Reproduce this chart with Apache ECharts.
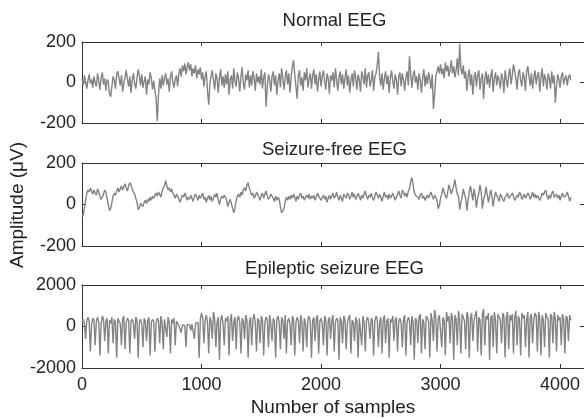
<!DOCTYPE html>
<html><head><meta charset="utf-8">
<script src="https://cdn.jsdelivr.net/npm/echarts@6/dist/echarts.min.js"></script>
<style>html,body{margin:0;padding:0;background:#fff}#c{width:584px;height:418px}</style>
</head><body><div id="c"></div>
<script>
const STEP = 10;

const normalEEG = [
20,-15,35,5,-30,10,40,-5,15,-25,
30,0,-20,45,10,-35,25,50,-10,20,
-40,15,5,-55,-70,-20,30,10,-30,40,
55,20,-15,35,-45,0,25,60,15,-20,
30,-50,10,45,-5,-30,20,65,35,-15,
40,-25,5,30,-60,15,-10,50,20,-35,
10,-40,-80,-190,-60,20,-30,35,-15,25,
45,-10,20,-45,30,55,0,-25,15,35,
-20,40,70,30,85,55,95,40,75,100,
60,90,30,70,45,85,20,65,40,75,
15,50,-20,30,55,-40,-110,-10,35,60,
10,-35,45,20,-50,25,65,-15,30,-25,
40,-10,55,-60,15,35,-30,70,5,-20,
50,20,-45,30,75,-5,-35,40,10,60,
-25,35,-15,55,20,-40,45,0,30,-10,
65,-30,25,50,-120,-20,40,15,-45,30,
55,-15,35,-60,10,45,-25,70,20,-35,
30,60,-10,45,-50,25,80,110,40,-20,
-80,35,60,-15,25,-40,50,10,70,-25,
20,45,-30,35,65,-10,40,-45,15,55,
-20,30,60,5,-35,45,20,-55,35,10,
50,-25,70,15,-40,25,55,-10,40,-30,
20,65,-15,35,-50,10,45,-20,60,25,
-35,40,15,-45,55,30,-10,70,-25,35,
50,-20,10,60,-40,25,45,85,150,30,
-15,45,-35,20,55,-10,35,-50,25,60,
5,-30,40,15,-60,30,50,-20,45,10,
-40,25,55,-15,130,40,-25,35,60,0,
30,-35,45,10,-50,25,65,-20,35,-10,
50,15,-30,40,-130,-60,30,55,80,45,
90,40,70,20,100,55,85,30,65,110,
45,80,25,60,120,35,190,70,40,85,
20,55,-40,30,65,-15,40,-60,25,50,
-20,35,60,-35,20,45,-80,15,55,-10,
40,-25,30,65,-45,20,50,-15,35,10,
-30,45,20,-50,60,15,-25,40,70,-10,
35,90,55,20,-35,45,65,10,-20,50,
25,-40,55,80,30,-15,45,-30,20,60,
-10,35,50,-45,25,70,-20,40,15,-35,
45,20,-30,55,-5,35,-100,-20,40,15,
-25,30,50,-10,20,35,-15,25,40,10
];

const seizureFreeEEG = [
-60,-50,-20,20,55,70,60,80,65,50,
70,55,45,75,60,40,25,35,50,70,
60,30,0,-30,-20,10,40,55,45,65,
80,60,75,90,70,85,100,80,65,90,
105,95,75,60,50,30,10,-25,-15,5,
0,-10,10,20,5,25,15,35,20,40,
30,45,55,40,60,50,35,65,80,90,
115,90,70,80,60,75,55,45,30,50,
40,25,10,30,45,35,55,40,20,35,
25,45,30,15,40,50,35,20,45,30,
40,55,25,35,10,30,45,20,40,15,
30,50,35,55,20,0,25,40,30,45,
35,20,-10,10,25,5,-20,-40,-15,20,
40,50,35,60,45,70,80,65,95,105,
80,60,45,55,30,40,60,50,35,20,
45,55,30,50,65,40,25,35,50,45,
30,15,40,20,35,25,-10,-40,-30,-20,
15,35,20,40,25,45,30,50,35,15,
40,25,45,55,30,40,20,35,45,30,
50,25,40,30,45,20,35,55,40,30,
20,35,45,25,40,10,30,45,25,40,
55,30,40,60,35,20,45,30,15,50,
40,30,55,45,25,40,60,35,50,25,
35,55,40,20,45,30,50,65,40,25,
45,35,55,30,20,40,60,45,30,50,
35,15,40,60,35,45,25,50,30,40,
55,40,20,35,50,65,45,30,70,60,
40,55,35,65,75,110,130,95,60,45,
50,35,25,45,55,30,40,20,15,45,
30,50,60,40,25,45,35,20,-20,-5,
30,50,80,60,40,30,60,95,75,50,
70,90,120,80,50,40,-25,10,35,75,
50,30,-30,20,60,90,55,20,75,40,
-15,30,55,95,60,-20,25,45,85,50,
10,40,70,35,-10,30,60,45,30,15,
50,40,25,15,35,40,55,30,25,45,
55,40,20,30,45,35,60,50,25,35,
50,30,40,55,45,25,40,60,35,50,
30,45,40,20,35,55,45,60,70,40,
25,45,30,55,65,35,40,50,30,45,
20,40,55,35,30,45,60,40,15,35
];

const epilepticEEG = [
200,350,150,-600,300,450,250,-1200,100,400,
300,-900,250,450,200,-1400,150,500,350,-700,
250,400,-1300,300,150,450,-800,350,200,-1500,
400,250,150,-900,350,500,-1100,200,400,300,
-1300,250,350,150,-600,450,300,-1500,200,350,
100,-1000,400,250,-700,300,450,-1400,200,350,
250,-1200,150,400,300,-800,500,200,-1100,350,
300,-500,450,200,-1300,350,150,400,-900,250,
150,50,100,-300,80,120,40,-1000,100,60,
80,-200,120,50,-600,150,90,200,-1500,350,
650,400,-800,300,550,200,-1300,450,250,-600,
700,350,-1000,200,450,-1600,300,550,150,-900,
400,250,500,-1400,300,600,-700,200,450,-1100,
350,500,200,-1300,400,250,-600,550,300,-1500,
200,450,-900,350,600,150,-1200,400,250,-800,
500,300,-1400,200,450,350,-1000,550,150,-700,
400,250,-1500,350,500,200,-1100,450,300,-600,
550,-1300,250,400,150,-900,500,350,-1400,200,
450,300,-800,550,250,-1200,400,150,-1000,350,
500,200,-1500,300,450,-700,350,550,-1300,250,
400,150,-900,500,350,-1400,250,450,-600,300,
550,-1200,200,400,300,-1600,450,250,-800,500,
350,-1100,150,400,550,-1300,300,200,-700,450,
250,-1500,400,350,-900,500,200,-1200,300,450,
150,-600,400,300,-1400,250,500,350,-1000,200,
450,-1300,300,550,-800,250,400,-1500,350,200,
500,-700,300,450,-1200,250,400,150,-1000,350,
550,-1400,200,450,300,-900,500,250,-1600,400,
300,-800,450,600,-1300,350,200,-1100,500,400,
250,-1500,650,300,-700,800,450,-1200,350,550,
600,-1000,450,300,-1400,700,250,500,-800,650,
400,-1600,550,350,-900,750,300,-1300,600,450,
250,-1100,700,500,-1500,400,650,-700,300,550,
750,-1200,450,300,-1400,600,850,-900,500,350,
650,-1600,400,550,-1000,700,300,-1300,600,450,
350,-800,650,500,-1500,400,700,-1100,550,300,
600,-1300,450,750,-900,500,350,-1400,650,400,
550,-1000,300,700,-1500,450,600,-800,350,650,
500,-1200,700,400,-1400,550,300,-1000,650,450,
350,-1500,600,500,-800,700,400,-1200,550,300,
450,-900,600,350,-1300,500,400,-700,550,300
];

const panelTitles = ['Normal EEG', 'Seizure-free EEG', 'Epileptic seizure EEG'];
const panelData = [normalEEG, seizureFreeEEG, epilepticEEG];
const yMin = [-200, -200, -2000];
const yMax = [200, 200, 2000];
const yStep = [200, 200, 2000];
const xMin = 0, xMax = 4200, xStep = 1000;
const xAxisName = 'Number of samples';
const yAxisName = 'Amplitude (\u03bcV)';

const FONT = '"Liberation Sans", Arial, sans-serif';
const TXT = '#222';
const grids = [
  {left: 82, top: 42, width: 505, height: 81},
  {left: 82, top: 163, width: 505, height: 83},
  {left: 82, top: 285, width: 505, height: 83}
];
const titleY = [21, 150, 269];

const xAxes = [], yAxes = [], series = [], graphics = [];
const lineCol = '#333';
const plain = function (v) { return String(v); };
for (let i = 0; i < 3; i++) {
  ['bottom', 'top'].forEach(function (pos) {
    xAxes.push({
      type: 'value', gridIndex: i, position: pos, min: xMin, max: xMax, interval: xStep,
      axisLine: {show: true, onZero: false, lineStyle: {color: lineCol, width: 1}},
      axisTick: {show: true, inside: true, length: 4, lineStyle: {color: lineCol}},
      axisLabel: {show: pos === 'bottom' && i === 2, showMaxLabel: false, margin: 8,
        fontFamily: FONT, fontSize: 18, color: TXT, formatter: plain},
      splitLine: {show: false}
    });
  });
  ['left', 'right'].forEach(function (pos) {
    yAxes.push({
      type: 'value', gridIndex: i, position: pos, min: yMin[i], max: yMax[i], interval: yStep[i],
      axisLine: {show: true, onZero: false, lineStyle: {color: lineCol, width: 1}},
      axisTick: {show: true, inside: true, length: 4, lineStyle: {color: lineCol}},
      axisLabel: {show: pos === 'left', margin: 6, fontFamily: FONT, fontSize: 18, color: TXT, formatter: plain},
      splitLine: {show: false}
    });
  });
  series.push({
    type: 'line', xAxisIndex: 2 * i, yAxisIndex: 2 * i, showSymbol: false, symbol: 'none',
    lineStyle: {color: '#838383', width: 1.4}, animation: false,
    data: panelData[i].map(function (v, k) { return [k * STEP, v]; })
  });
  graphics.push({
    type: 'text', x: grids[i].left + grids[i].width / 2, y: titleY[i],
    style: {text: panelTitles[i], font: '18.5px ' + FONT, fill: TXT, textAlign: 'center', textVerticalAlign: 'middle'}
  });
}
graphics.push({
  type: 'text', x: 333, y: 408,
  style: {text: xAxisName, font: '19px ' + FONT, fill: TXT, textAlign: 'center', textVerticalAlign: 'middle'}
});
graphics.push({
  type: 'text', x: 18, y: 205, rotation: Math.PI / 2,
  style: {text: yAxisName, font: '19px ' + FONT, fill: TXT, textAlign: 'center', textVerticalAlign: 'middle'}
});

const chart = echarts.init(document.getElementById('c'), null, {renderer: 'canvas'});
chart.setOption({
  animation: false,
  backgroundColor: '#fff',
  grid: grids,
  xAxis: xAxes,
  yAxis: yAxes,
  series: series,
  graphic: graphics
});
</script></body></html>
